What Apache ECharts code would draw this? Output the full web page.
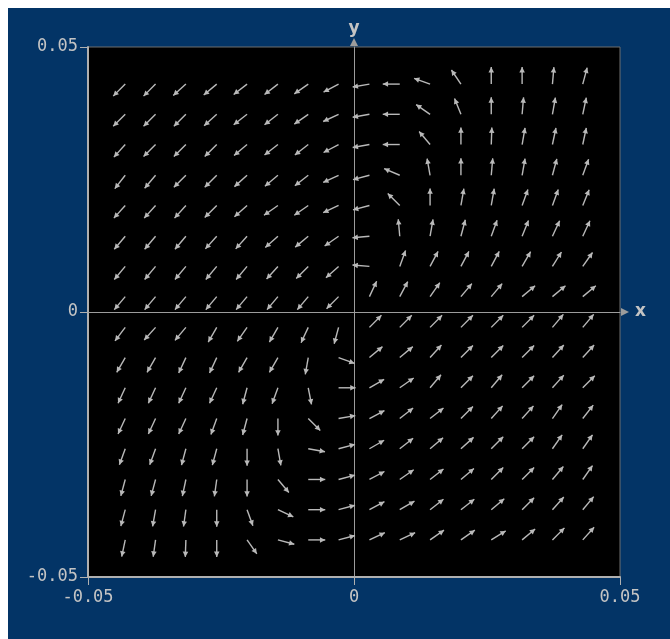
<!DOCTYPE html>
<html>
<head>
<meta charset="utf-8">
<title>Direction field</title>
<script src="https://cdn.jsdelivr.net/npm/echarts@6/dist/echarts.min.js"></script>
<style>
  html, body { margin: 0; padding: 0; background: #ffffff; overflow: hidden; }
  #chart { position: absolute; left: 8px; top: 8px; width: 662px; height: 631px; }
</style>
</head>
<body>
<div id="chart"></div>
<script>
// Sample points of the direction field (arrow tails), left to right and top to bottom
const xGrid = [-0.043, -0.0373, -0.0316, -0.0258, -0.0201, -0.0143, -0.0086, -0.0029,
               0.0029, 0.0086, 0.0143, 0.0201, 0.0258, 0.0316, 0.0373, 0.043];
const yGrid = [0.043, 0.0373, 0.0316, 0.0258, 0.0201, 0.0143, 0.0086, 0.0029,
               -0.0029, -0.0086, -0.0143, -0.0201, -0.0258, -0.0316, -0.0373, -0.043];

// Arrow directions in degrees (0 = +x, 90 = +y), one row per yGrid entry
const angles = [
  [225, 225, 222, 220, 218, 218, 215, 208,  190, 180, 160, 124,  90,  90,  85,  75],
  [225, 225, 225, 222, 218, 218, 215, 205,  190, 180, 145, 112,  90,  85,  80,  78],
  [228, 225, 225, 225, 220, 218, 218, 208,  190, 180, 130,  90,  88,  80,  78,  78],
  [232, 230, 225, 225, 222, 220, 218, 205,  195, 157, 100,  90,  85,  80,  75,  70],
  [228, 228, 228, 225, 222, 215, 215, 205,  195, 135,  90,  80,  80,  70,  70,  68],
  [230, 230, 230, 228, 228, 222, 220, 215,  185,  95,  80,  75,  70,  68,  65,  65],
  [230, 230, 230, 230, 230, 228, 225, 222,  175,  70,  62,  62,  62,  60,  58,  55],
  [230, 230, 230, 230, 230, 230, 230, 225,   65,  62,  55,  50,  50,  40,  40,  40],
  [233, 228, 230, 240, 235, 240, 245, 255,   45,  45,  45,  45,  45,  45,  50,  50],
  [240, 240, 245, 245, 240, 240, 260, 340,   40,  40,  48,  45,  45,  45,  48,  48],
  [245, 245, 245, 245, 255, 250, 281,   0,   30,  35,  50,  45,  50,  45,  48,  45],
  [245, 245, 245, 250, 255, 270, 315,  10,   28,  38,  38,  45,  48,  48,  55,  52],
  [250, 250, 255, 255, 270, 280, 350,  15,   30,  38,  40,  42,  45,  45,  55,  55],
  [255, 255, 258, 262, 270, 310,   0,  15,   28,  35,  38,  40,  45,  45,  50,  55],
  [255, 260, 262, 270, 290, 335,   0,  15,   28,  30,  38,  38,  40,  45,  48,  50],
  [258, 262, 268, 270, 305, 345,   0,  15,   25,  25,  35,  35,  32,  40,  45,  48]
];

// Axis range and tick step
const axisMin = -0.05;
const axisMax = 0.05;
const tickStep = 0.05;

const fieldData = [];
yGrid.forEach((y, r) => {
  xGrid.forEach((x, c) => {
    fieldData.push([x, y, angles[r][c]]);
  });
});

const arrowColor = '#b9b9b9';
const textColor = '#c4c4c4';
const monoFont = 'DejaVu Sans Mono';

// Each arrow: fixed screen length, starting at its sample point
function renderArrow(params, api) {
  const p = api.coord([api.value(0), api.value(1)]);
  const a = api.value(2) * Math.PI / 180;
  const len = 17;
  const hx = p[0] + len * Math.cos(a);
  const hy = p[1] - len * Math.sin(a);
  const hl = 6, spread = 0.48;
  const b1 = [hx - hl * Math.cos(a - spread), hy + hl * Math.sin(a - spread)];
  const b2 = [hx - hl * Math.cos(a + spread), hy + hl * Math.sin(a + spread)];
  return {
    type: 'group',
    children: [
      { type: 'line', shape: { x1: p[0], y1: p[1], x2: hx, y2: hy },
        style: { stroke: arrowColor, lineWidth: 1.4 } },
      { type: 'polygon', shape: { points: [[hx, hy], b1, b2] },
        style: { fill: arrowColor } }
    ]
  };
}

const chart = echarts.init(document.getElementById('chart'));
chart.setOption({
  backgroundColor: '#033466',
  animation: false,
  grid: {
    left: 80, top: 39, width: 532, height: 530,
    show: true, backgroundColor: '#000000',
    borderColor: '#6e6e6e', borderWidth: 1
  },
  xAxis: [
    {
      type: 'value', min: axisMin, max: axisMax, interval: tickStep,
      position: 'bottom',
      axisLine: { onZero: false, lineStyle: { color: '#b0b0b0', width: 2 } },
      axisTick: { length: 8, lineStyle: { color: '#b0b0b0', width: 1 } },
      axisLabel: { color: textColor, fontFamily: monoFont, fontSize: 17, margin: 12 },
      splitLine: { show: false }
    },
    {
      type: 'value', min: axisMin, max: axisMax, position: 'top',
      name: 'x', nameLocation: 'end', nameGap: 15,
      nameTextStyle: { color: textColor, fontFamily: 'DejaVu Sans', fontWeight: 'bold', fontSize: 17, verticalAlign: 'middle' },
      axisLine: {
        onZero: true, onZeroAxisIndex: 0,
        symbol: ['none', 'triangle'], symbolSize: [8, 8], symbolOffset: [0, 5],
        lineStyle: { color: '#9c9c9c', width: 1 }
      },
      axisTick: { show: false }, axisLabel: { show: false }, splitLine: { show: false }
    }
  ],
  yAxis: [
    {
      type: 'value', min: axisMin, max: axisMax, interval: tickStep,
      position: 'left',
      axisLine: { onZero: false, lineStyle: { color: '#b0b0b0', width: 2 } },
      axisTick: { length: 8, lineStyle: { color: '#b0b0b0', width: 1 } },
      axisLabel: { color: textColor, fontFamily: monoFont, fontSize: 17, margin: 10 },
      splitLine: { show: false }
    },
    {
      type: 'value', min: axisMin, max: axisMax, position: 'right',
      name: 'y', nameLocation: 'end', nameGap: 10,
      nameTextStyle: { color: textColor, fontFamily: 'DejaVu Sans', fontWeight: 'bold', fontSize: 17, align: 'center' },
      axisLine: {
        onZero: true, onZeroAxisIndex: 0,
        symbol: ['none', 'triangle'], symbolSize: [8, 8], symbolOffset: [0, 5],
        lineStyle: { color: '#9c9c9c', width: 1 }
      },
      axisTick: { show: false }, axisLabel: { show: false }, splitLine: { show: false }
    }
  ],
  series: [
    {
      type: 'custom',
      coordinateSystem: 'cartesian2d',
      xAxisIndex: 0, yAxisIndex: 0,
      renderItem: renderArrow,
      clip: false,
      silent: true,
      data: fieldData
    }
  ]
});
</script>
</body>
</html>
